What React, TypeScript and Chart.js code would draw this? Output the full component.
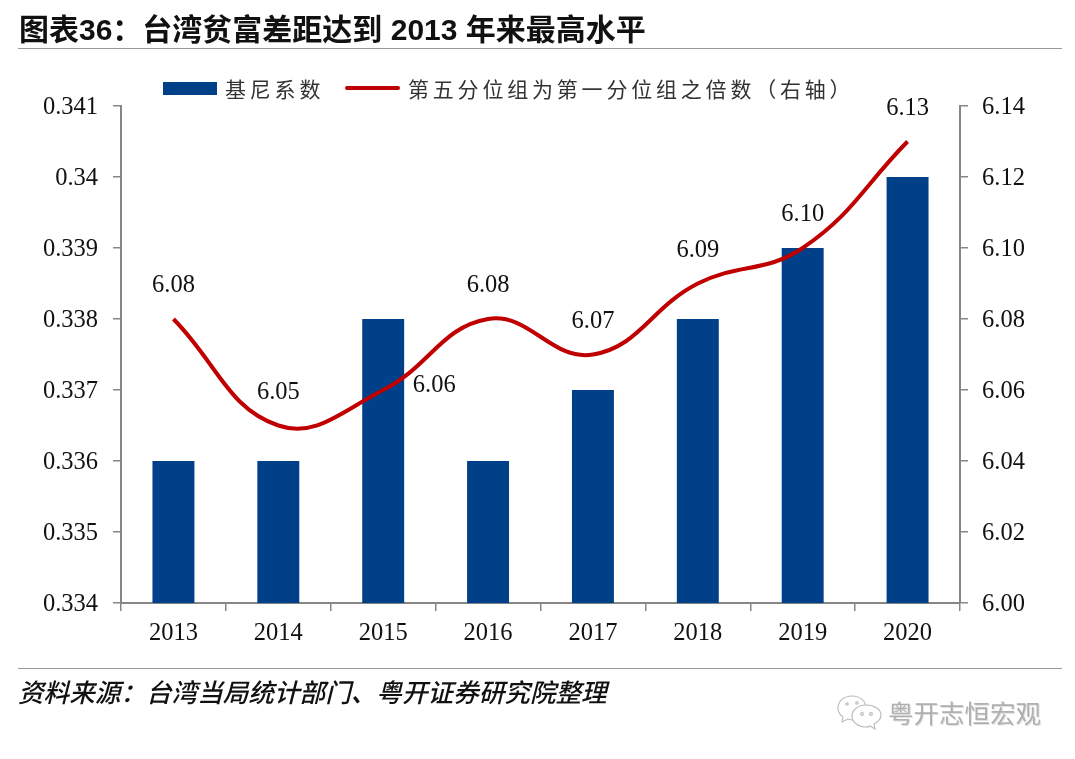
import React, { useEffect, useRef } from "react";
import { Chart, registerables } from "chart.js";

Chart.register(...registerables);

const years = ["2013", "2014", "2015", "2016", "2017", "2018", "2019", "2020"];
const giniValues = [0.336, 0.336, 0.338, 0.336, 0.337, 0.338, 0.339, 0.34];
const ratioValues = [6.08, 6.05, 6.06, 6.08, 6.07, 6.09, 6.1, 6.13];
const giniName = "基尼系数";
const ratioName = "第五分位组为第一分位组之倍数（右轴）";
const titleText = "图表36：台湾贫富差距达到 2013 年来最高水平";
const sourceText = "资料来源：台湾当局统计部门、粤开证券研究院整理";
const watermarkText = "粤开志恒宏观";

const BAR_COLOR = "#004088";
const LINE_COLOR = "#C00000";
const AXIS_COLOR = "#868686";
const SERIF = '"Liberation Serif", serif';
const CJK = '"Liberation Sans", "Noto Sans CJK SC", sans-serif';

const pointLabels = {
  id: "pointLabels",
  afterDatasetsDraw(chart: any) {
    const { ctx } = chart;
    const meta = chart.getDatasetMeta(1);
    ctx.save();
    ctx.font = `24.5px ${SERIF}`;
    ctx.fillStyle = "#111";
    ctx.textAlign = "center";
    ctx.textBaseline = "middle";
    meta.data.forEach((el: any, i: number) => {
      const sideways = i === 2;
      ctx.fillText(
        ratioValues[i].toFixed(2),
        el.x + (sideways ? 51 : 0),
        el.y + (sideways ? -4 : -33)
      );
    });
    ctx.restore();
  },
};

const abs = (o: React.CSSProperties): React.CSSProperties => ({ position: "absolute", ...o });

export default function App() {
  const ref = useRef<HTMLCanvasElement>(null);
  useEffect(() => {
    const chart = new Chart(ref.current!, {
      type: "bar",
      data: {
        labels: years,
        datasets: [
          {
            type: "bar",
            label: giniName,
            data: giniValues,
            backgroundColor: BAR_COLOR,
            barPercentage: 0.8,
            categoryPercentage: 0.5,
            yAxisID: "y",
            order: 2,
          },
          {
            type: "line",
            label: ratioName,
            data: ratioValues,
            borderColor: LINE_COLOR,
            borderWidth: 4,
            pointRadius: 0,
            tension: 0.42,
            yAxisID: "y1",
            order: 1,
          },
        ],
      } as any,
      options: {
        responsive: false,
        animation: false,
        devicePixelRatio: 1,
        layout: { padding: { top: 106 } },
        plugins: { legend: { display: false }, tooltip: { enabled: false } },
        scales: {
          x: {
            afterFit(s: any) {
              s.height = 156;
            },
            border: { color: AXIS_COLOR, width: 2 },
            grid: { drawOnChartArea: false, drawTicks: true, tickLength: 8, color: AXIS_COLOR, lineWidth: 1.5 },
            ticks: { color: "#111", font: { family: SERIF, size: 24.5 }, padding: 8, maxRotation: 0 },
          },
          y: {
            position: "left",
            min: 0.334,
            max: 0.341,
            afterFit(s: any) {
              s.width = 121;
            },
            border: { color: AXIS_COLOR, width: 2 },
            grid: { drawOnChartArea: false, tickLength: 8, color: AXIS_COLOR, lineWidth: 1.5 },
            ticks: {
              stepSize: 0.001,
              color: "#111",
              font: { family: SERIF, size: 24.5 },
              padding: 15,
              labelOffset: 2,
              callback: (v: any) => String(Number(Number(v).toFixed(3))),
            },
          },
          y1: {
            position: "right",
            min: 6.0,
            max: 6.14,
            afterFit(s: any) {
              s.width = 115;
            },
            border: { color: AXIS_COLOR, width: 2 },
            grid: { drawOnChartArea: false, tickLength: 8, color: AXIS_COLOR, lineWidth: 1.5 },
            ticks: {
              stepSize: 0.02,
              color: "#111",
              font: { family: SERIF, size: 24.5 },
              padding: 14,
              labelOffset: 2,
              callback: (v: any) => Number(v).toFixed(2),
            },
          },
        },
      },
      plugins: [pointLabels],
    } as any);
    return () => chart.destroy();
  }, []);

  const legendText: React.CSSProperties = {
    fontFamily: '"Noto Sans CJK SC", sans-serif',
    fontSize: 21,
    letterSpacing: 3.8,
    color: "#333",
    lineHeight: "26px",
    whiteSpace: "nowrap",
  };

  return (
    <div style={abs({ left: 0, top: 0, width: 1075, height: 759, overflow: "hidden", background: "#fff" })}>
      <canvas ref={ref} width={1075} height={759} style={abs({ left: 0, top: 0, display: "block" })} />
      <div style={abs({ left: 19, top: 10, fontFamily: CJK, fontWeight: 700, fontSize: 30, lineHeight: "40px", color: "#111", whiteSpace: "nowrap" })}>
        {titleText}
      </div>
      <div style={abs({ left: 18, top: 48, width: 1044, height: 1, background: "#999" })} />
      <div style={abs({ left: 163, top: 82, width: 54, height: 13, background: BAR_COLOR })} />
      <div style={abs({ left: 225, top: 75, ...legendText })}>{giniName}</div>
      <div style={abs({ left: 345, top: 86, width: 55, height: 4, borderRadius: 2, background: LINE_COLOR })} />
      <div style={abs({ left: 408, top: 75, ...legendText })}>{ratioName}</div>
      <div style={abs({ left: 18, top: 668, width: 1044, height: 1, background: "#999" })} />
      <div style={abs({ left: 18, top: 675, fontFamily: CJK, fontStyle: "italic", fontWeight: 500, fontSize: 25.6, lineHeight: "36px", color: "#111", whiteSpace: "nowrap" })}>
        {sourceText}
      </div>
      <svg width="46" height="36" viewBox="0 0 46 36" style={abs({ left: 837, top: 694 })} fill="#fff" stroke="#bdbdbd" strokeWidth="1.2">
        <path d="M15 2C7 2 1 7 1 14c0 4 2 7 5 9l-1 5 6-3c1 0 3 1 4 1 8 0 14-5 14-12S23 2 15 2z" />
        <path d="M29 11c-8 0-14 5-14 11s6 11 14 11c2 0 3 0 4-1l5 3-1-5c4-2 7-5 7-9 0-6-7-10-15-10z" />
        <circle cx="25" cy="20" r="1.4" />
        <circle cx="34" cy="20" r="1.4" />
        <circle cx="10" cy="10" r="1.2" />
        <circle cx="20" cy="9" r="1.2" />
      </svg>
      <div style={abs({ left: 888, top: 694, fontFamily: '"Noto Sans CJK SC", sans-serif', fontSize: 25.5, lineHeight: "36px", color: "#b0b0b0", whiteSpace: "nowrap", textShadow: "1px 1px 0 #e0e0e0" })}>
        {watermarkText}
      </div>
    </div>
  );
}
